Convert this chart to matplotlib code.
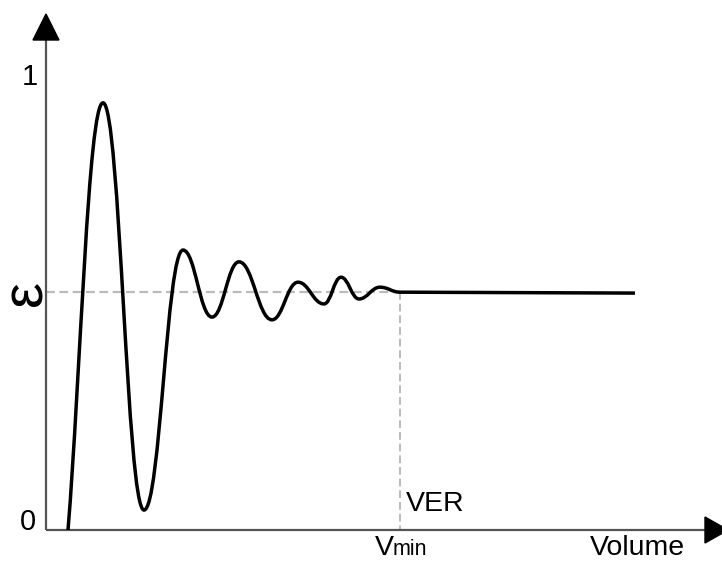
import matplotlib
matplotlib.use("Agg")
import matplotlib.pyplot as plt
from matplotlib.path import Path
from matplotlib.patches import PathPatch, Polygon

plt.rcParams['font.family'] = ['Liberation Sans', 'DejaVu Sans']

# ---- data (curve extrema, volume units / normalised ε) ----
curve_x = [0.22, 0.57, 0.98, 1.37, 1.66, 1.93, 2.26, 2.52, 2.78, 2.95, 3.13, 3.34, 3.54]
curve_y = [0.000, 0.943, 0.044, 0.618, 0.470, 0.592, 0.464, 0.547, 0.499, 0.558, 0.510, 0.536, 0.525]
flat_end_x = 5.89
eps_level = 0.525
v_min = 3.54
y_tick_labels = ["0", "1"]

W, H = 722, 563
fig = plt.figure(figsize=(W / 100, H / 100), dpi=100)
ax = fig.add_axes([0, 0, 1, 1])
# pixel mapping: px = 46 + 100*x ; py = 530 - 453*y
ax.set_xlim(-0.46, 6.76)
ax.set_ylim(-33 / 453, 530 / 453)
ax.axis('off')

def P(px, py):
    return ((px - 46) / 100.0, (530 - py) / 453.0)

# axes lines
axc = '#555555'
x0, y0 = P(46, 530)
xt, yt = P(46, 40)
ax.plot([x0, x0], [y0, yt], color=axc, lw=1.6, solid_capstyle='butt', zorder=2)
xr, _ = P(705, 530)
ax.plot([x0, xr], [y0, y0], color=axc, lw=1.6, solid_capstyle='butt', zorder=2)
# arrow heads
ax.add_patch(Polygon([P(33, 40), P(59, 40), P(46, 14)], closed=True, color='black', zorder=3))
ax.add_patch(Polygon([P(705, 517), P(705, 543), P(728, 530)], closed=True, color='black', zorder=3))

# dashed reference lines
dc = '#bbbbbb'
ax.plot([x0, v_min], [eps_level, eps_level], color=dc, lw=1.6, ls=(0, (4, 2)), zorder=1)
ax.plot([v_min, v_min], [eps_level, 0], color=dc, lw=1.4, ls=(0, (4, 2)), zorder=1)

# smooth curve via cubic Bezier with horizontal tangents at extrema
verts = [(curve_x[0], curve_y[0])]
codes = [Path.MOVETO]
for i in range(1, len(curve_x)):
    xa, ya = curve_x[i - 1], curve_y[i - 1]
    xb, yb = curve_x[i], curve_y[i]
    d = (xb - xa) * 0.42
    if i == 1:
        c1 = (xa + 0.35 * (xb - xa), ya + 0.35 * (yb - ya))
    else:
        c1 = (xa + d, ya)
    c2 = (xb - d, yb)
    verts += [c1, c2, (xb, yb)]
    codes += [Path.CURVE4] * 3
verts.append((flat_end_x, eps_level - 0.002))
codes.append(Path.LINETO)
ax.add_patch(PathPatch(Path(verts, codes), facecolor='none', edgecolor='black', lw=2.5,
                       capstyle='butt', joinstyle='round', zorder=4))

# texts
fs = 21
ax.text(*P(30, 77), y_tick_labels[1], fontsize=fs, ha='center', va='center')
ax.text(*P(28, 522), y_tick_labels[0], fontsize=fs, ha='center', va='center')
ax.text(*P(26, 293), 'ε', fontsize=42, rotation=90, ha='center', va='center')
ax.text(*P(406, 511), 'VER', fontsize=20.5, ha='left', va='baseline')
ax.text(*P(375, 555), 'V', fontsize=20.5, ha='left', va='baseline')
ax.text(*P(393, 555), 'min', fontsize=15.5, ha='left', va='baseline')
ax.text(*P(590, 555), 'Volume', fontsize=20.5, ha='left', va='baseline')

fig.savefig('out.png', dpi=100)
